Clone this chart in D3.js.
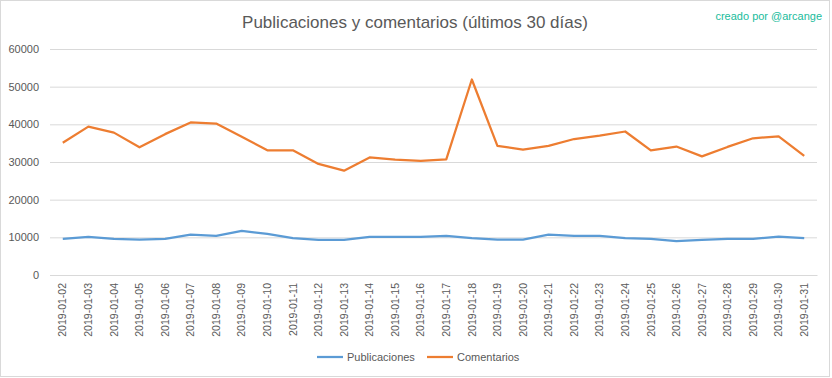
<!DOCTYPE html>
<html>
<head>
<meta charset="utf-8">
<script src="https://cdn.jsdelivr.net/npm/d3@7"></script>
<style>
  body { margin: 0; background: #fff; }
  text { font-family: "Liberation Sans", Arial, sans-serif; }
</style>
</head>
<body>
<div id="chart"></div>
<script>
// data
const fechas = ["2019-01-02", "2019-01-03", "2019-01-04", "2019-01-05", "2019-01-06", "2019-01-07",
    "2019-01-08", "2019-01-09", "2019-01-10", "2019-01-11", "2019-01-12", "2019-01-13", "2019-01-14",
    "2019-01-15", "2019-01-16", "2019-01-17", "2019-01-18", "2019-01-19", "2019-01-20", "2019-01-21",
    "2019-01-22", "2019-01-23", "2019-01-24", "2019-01-25", "2019-01-26", "2019-01-27", "2019-01-28",
    "2019-01-29", "2019-01-30", "2019-01-31"];

const publicaciones = [9600, 10100, 9600, 9400, 9600, 10700, 10400, 11700, 10900, 9800,
    9300, 9300, 10100, 10100, 10100, 10400, 9800, 9400, 9400, 10700,
    10400, 10400, 9800, 9600, 9000, 9300, 9600, 9600, 10200, 9800];

const comentarios = [35100, 39400, 37800, 33900, 37400, 40500, 40200, 36700, 33100, 33100,
    29500, 27700, 31200, 30600, 30300, 30700, 51900, 34300, 33300, 34300,
    36100, 37000, 38100, 33100, 34100, 31500, 34000, 36300, 36800, 31600];

const yTicks = [0, 10000, 20000, 30000, 40000, 50000, 60000];

const series = [
    { name: "Publicaciones", values: publicaciones, color: "#5b9bd5" },
    { name: "Comentarios", values: comentarios, color: "#ed7d31" }
];

const width = 832;
const height = 378;
const margin = { top: 49, right: 15, bottom: 103, left: 50 };

const svg = d3.select("#chart").append("svg")
    .attr("width", width)
    .attr("height", height);

// chart border
svg.append("rect")
    .attr("x", 0.5).attr("y", 0.5)
    .attr("width", 829).attr("height", 376)
    .attr("fill", "#fff")
    .attr("stroke", "#d9d9d9");

const x = d3.scaleBand()
    .domain(fechas)
    .range([margin.left, width - margin.right]);

const y = d3.scaleLinear()
    .domain([0, 60000])
    .range([height - margin.bottom, margin.top]);

// gridlines + y labels
const yAxis = svg.append("g")
    .attr("transform", `translate(${margin.left},0)`)
    .call(d3.axisLeft(y).tickValues(yTicks).tickSize(-(width - margin.left - margin.right)).tickPadding(11).tickFormat(d3.format("d")));
yAxis.select(".domain").remove();
yAxis.selectAll("line").attr("stroke", "#d9d9d9");
yAxis.selectAll("text").attr("fill", "#595959").style("font-size", "11px");

// x labels
const xAxis = svg.append("g")
    .attr("transform", `translate(0,${height - margin.bottom})`)
    .call(d3.axisBottom(x).tickSize(0));
xAxis.select(".domain").attr("stroke", "#d9d9d9");
xAxis.selectAll("text")
    .attr("fill", "#595959")
    .style("font-size", "10.5px")
    .attr("text-anchor", "end")
    .attr("transform", "rotate(-90)")
    .attr("x", -8)
    .attr("y", 0)
    .attr("dy", "0.35em");

// lines
const line = d3.line()
    .x((d, i) => x(fechas[i]) + x.bandwidth() / 2)
    .y(d => y(d));

svg.selectAll(".serie")
    .data(series)
    .join("path")
    .attr("class", "serie")
    .attr("d", d => line(d.values))
    .attr("fill", "none")
    .attr("stroke", d => d.color)
    .attr("stroke-width", 2.25)
    .attr("stroke-linejoin", "round");

// title
svg.append("text")
    .attr("x", 415)
    .attr("y", 28)
    .attr("text-anchor", "middle")
    .attr("fill", "#595959")
    .style("font-size", "17px")
    .text("Publicaciones y comentarios (últimos 30 días)");

svg.append("text")
    .attr("x", 822)
    .attr("y", 20)
    .attr("text-anchor", "end")
    .attr("fill", "#1abc9c")
    .style("font-size", "11px")
    .text("creado por @arcange");

// legend
const legendX = [317, 427];
const legend = svg.selectAll(".leg")
    .data(series)
    .join("g")
    .attr("class", "leg")
    .attr("transform", (d, i) => `translate(${legendX[i]},357)`);
legend.append("line")
    .attr("x1", 0).attr("x2", 26)
    .attr("stroke", d => d.color)
    .attr("stroke-width", 2.25);
legend.append("text")
    .attr("x", 30)
    .attr("dy", "0.35em")
    .attr("fill", "#595959")
    .style("font-size", "11px")
    .text(d => d.name);
</script>
</body>
</html>
